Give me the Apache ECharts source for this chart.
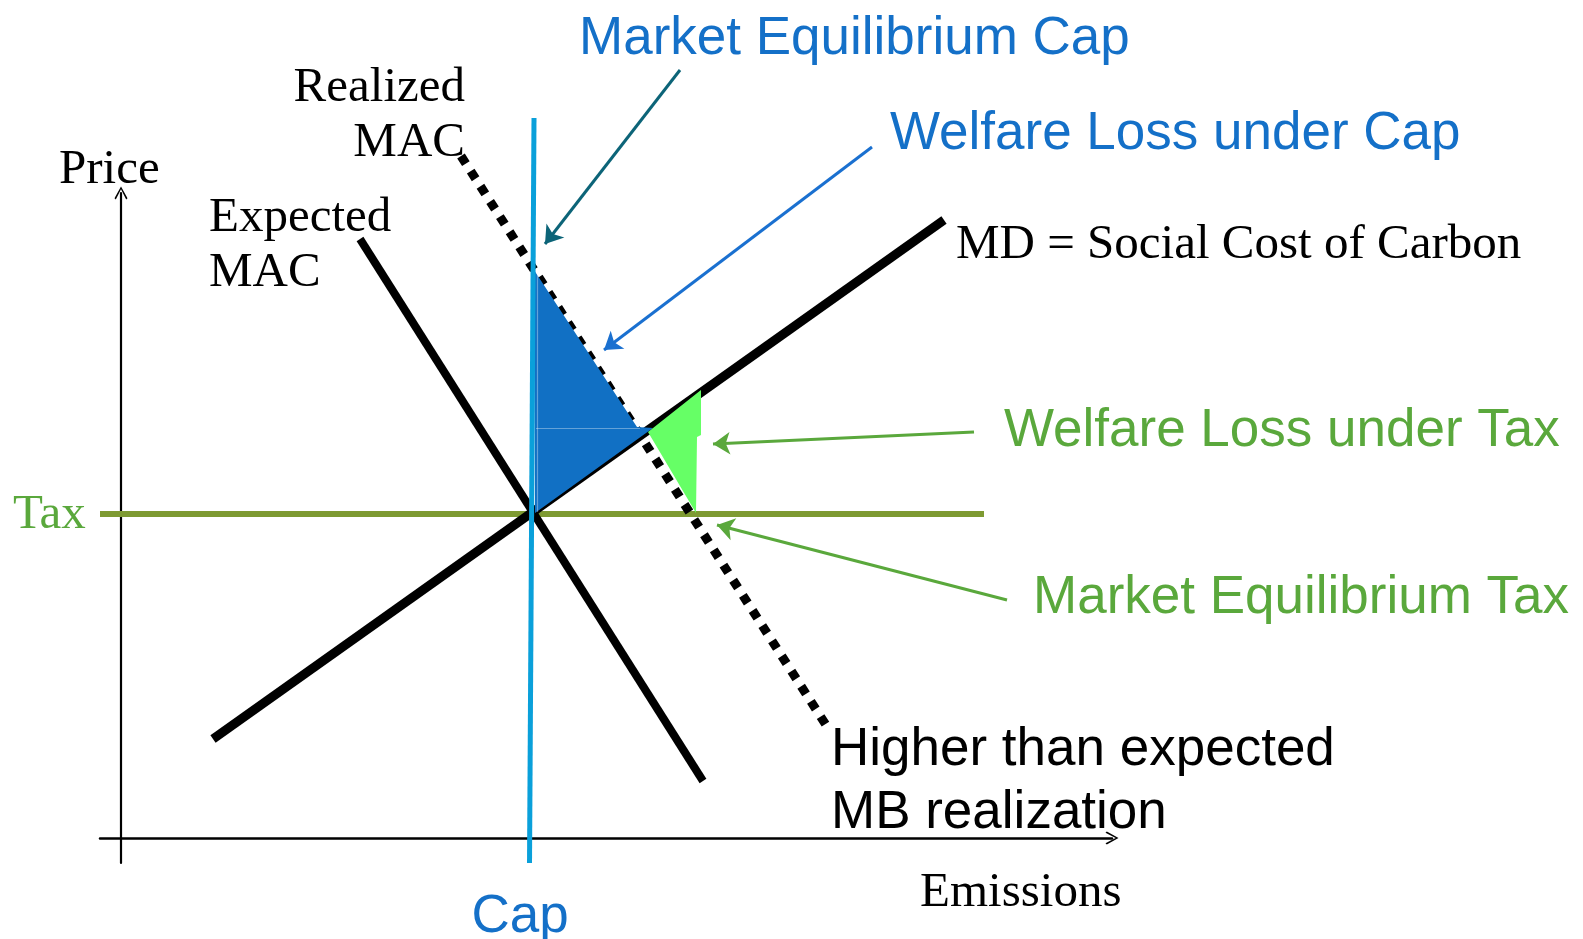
<!DOCTYPE html>
<html>
<head>
<meta charset="utf-8">
<script src="https://cdn.jsdelivr.net/npm/echarts@6/dist/echarts.min.js"></script>
<style>
html,body{margin:0;padding:0;background:#fff;}
#chart{width:1583px;height:939px;}
</style>
</head>
<body>
<div id="chart"></div>
<script>
// ---- Data (emissions on x, price on y; origin at axis crossing) ----
const expectedMAC = [[239, 599], [582, 57]];
const marginalDamage = [[92, 99], [823, 618]];
const realizedMAC = [[340, 682], [705, 113]];
const capLine = [[413, 720], [408.5, -25]];
const taxLine = [[-21, 324], [863, 324]];
const welfareLossCap = [[413, 568], [516, 411], [532, 410], [414, 325]];
const welfareLossTax = [[527, 406], [580, 448], [580, 403], [576, 401], [575, 325]];
const faintEdges = [[[415, 410], [519, 410]], [[416, 566], [416, 326]]];
const arrowEqCap = [[559, 768], [424, 594]];
const arrowLossCap = [[751, 691], [483, 488]];
const arrowLossTax = [[853, 406], [592, 394]];
const arrowEqTax = [[886, 238], [596, 313]];

const BLUE_TEXT = '#1470c8';
const GREEN_TEXT = '#5aa83c';
const SERIF = '"Liberation Serif", "Times New Roman", serif';
const SANS = '"Liberation Sans", Arial, sans-serif';

const chevron = 'path://M5,0 L10,9 L9,10 L5,2.2 L1,10 L0,9 Z';

function polySeries(points, color, z) {
  return {
    type: 'custom', z: z, silent: true, clip: false,
    data: [0],
    renderItem: function (params, api) {
      return {
        type: 'polygon',
        shape: { points: points.map(function (p) { return api.coord(p); }) },
        style: { fill: color }
      };
    }
  };
}
function lineSeries(data, color, width, z, type) {
  return {
    type: 'line', data: data, z: z, silent: true, clip: false,
    symbol: 'none', animation: false,
    lineStyle: { color: color, width: width, type: type || 'solid', cap: 'butt' }
  };
}
function text(str, x, y, font, size, color, align) {
  return {
    type: 'text', x: x, y: y + 3, silent: true,
    style: { text: str, fontFamily: font, fontSize: size, fill: color, align: align || 'left', verticalAlign: 'middle' }
  };
}

const chart = echarts.init(document.getElementById('chart'));
chart.setOption({
  animation: false,
  backgroundColor: '#fff',
  grid: { left: 100, right: 471, top: 193, bottom: 76, containLabel: false, outerBoundsMode: 'none' },
  xAxis: {
    type: 'value', min: -21, max: 991,
    axisLine: { onZero: true, lineStyle: { color: '#000', width: 2.5 }, symbol: ['none', chevron], symbolSize: [13, 13] },
    axisTick: { show: false }, axisLabel: { show: false }, splitLine: { show: false }
  },
  yAxis: {
    type: 'value', min: -25, max: 645,
    axisLine: { onZero: true, lineStyle: { color: '#000', width: 2.2 }, symbol: ['none', chevron], symbolSize: [13, 13] },
    axisTick: { show: false }, axisLabel: { show: false }, splitLine: { show: false }
  },
  series: [
    lineSeries(taxLine, '#7e9a32', 6, 2),
    lineSeries(expectedMAC, '#000', 8, 3),
    lineSeries(marginalDamage, '#000', 9, 3),
    lineSeries(realizedMAC, '#000', 9, 3, [9, 9]),
    polySeries(welfareLossCap, '#1170c4', 4),
    {
      type: 'lines', coordinateSystem: 'cartesian2d', z: 5, silent: true, clip: false,
      data: faintEdges.map(function (c) { return { coords: c }; }),
      lineStyle: { color: 'rgba(255,255,255,0.35)', width: 1.2, opacity: 1 }
    },
    polySeries(welfareLossTax, '#66ff66', 4),
    lineSeries(capLine, '#0aa0da', 5, 6),
    {
      type: 'lines', coordinateSystem: 'cartesian2d', z: 7, silent: true, clip: false,
      symbol: ['none', 'arrow'], symbolSize: 17,
      data: [
        { coords: arrowEqCap, lineStyle: { color: '#0c6478' } },
        { coords: arrowLossCap, lineStyle: { color: '#1a70d0' } },
        { coords: arrowLossTax, lineStyle: { color: '#5aa83c' } },
        { coords: arrowEqTax, lineStyle: { color: '#5aa83c' } }
      ],
      lineStyle: { width: 3, opacity: 1 }
    }
  ],
  graphic: [
    text('Market Equilibrium Cap', 579, 36.6, SANS, 53, BLUE_TEXT),
    text('Welfare Loss under Cap', 890, 131.6, SANS, 53, BLUE_TEXT),
    text('Welfare Loss under Tax', 1004, 428.6, SANS, 53, GREEN_TEXT),
    text('Market Equilibrium Tax', 1033, 595.6, SANS, 53, GREEN_TEXT),
    text('Higher than expected', 831, 747.6, SANS, 53, '#000'),
    text('MB realization', 831, 810.6, SANS, 53, '#000'),
    text('Cap', 520, 914.6, SANS, 53, BLUE_TEXT, 'center'),
    text('Price', 59, 167, SERIF, 49, '#000'),
    text('Realized', 465, 85, SERIF, 49, '#000', 'right'),
    text('MAC', 465, 140, SERIF, 49, '#000', 'right'),
    text('Expected', 209, 215, SERIF, 49, '#000'),
    text('MAC', 209, 270, SERIF, 49, '#000'),
    text('MD = Social Cost of Carbon', 956, 242, SERIF, 49, '#000'),
    text('Tax', 13, 512, SERIF, 49, GREEN_TEXT),
    text('Emissions', 920, 890, SERIF, 49, '#000')
  ]
});
</script>
</body>
</html>
